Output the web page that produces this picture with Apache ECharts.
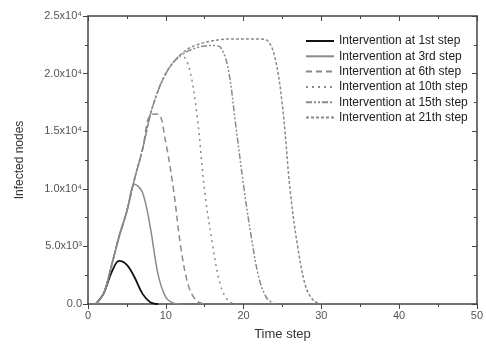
<!DOCTYPE html>
<html>
<head>
<meta charset="utf-8">
<script src="https://cdn.jsdelivr.net/npm/echarts@6/dist/echarts.min.js"></script>
<style>
  html, body { margin: 0; padding: 0; background: #fff; }
  #chart { width: 486px; height: 346px; }
</style>
</head>
<body>
<div id="chart"></div>
<script>
// time steps start at 1
const startStep = 1;
const seriesNames = [
  "Intervention at 1st step",
  "Intervention at 3rd step",
  "Intervention at 6th step",
  "Intervention at 10th step",
  "Intervention at 15th step",
  "Intervention at 21th step"
];
const step1 = [0, 900, 2700, 3750, 3400, 2300, 900, 150, 0];
const step3 = [0, 900, 3200, 5800, 8000, 10400, 9700, 6700, 2600, 600, 80, 0];
const step6 = [0, 900, 3300, 5900, 8100, 10900, 13400, 16400, 16500, 14000, 9900, 4600, 1400, 250, 0];
const step10 = [0, 900, 3300, 5900, 8100, 10900, 13400, 16400, 18500, 20000, 21000, 21600, 20500, 16500, 9800, 5200, 1700, 300, 0];
const step15 = [0, 900, 3300, 5900, 8100, 10900, 13400, 16400, 18500, 20000, 21000, 21600, 22000, 22250, 22400, 22450, 22300, 20500, 15500, 10300, 5800, 2200, 500, 0];
const step21 = [0, 900, 3300, 5900, 8100, 10900, 13400, 16400, 18500, 20000, 21000, 21700, 22200, 22500, 22700, 22850, 22950, 23000, 23000, 23000, 23000, 23000, 22900, 21500, 17200, 9800, 4800, 1500, 300, 0];
const yTickLabels = ["0.0", "5.0x10³", "1.0x10⁴", "1.5x10⁴", "2.0x10⁴", "2.5x10⁴"];
const xTickLabels = ["0", "10", "20", "30", "40", "50"];

const allValues = [step1, step3, step6, step10, step15, step21];
const lineStyles = [
  { color: "#111", width: 1.8, type: "solid" },
  { color: "#8a8a8a", width: 1.5, type: "solid" },
  { color: "#8a8a8a", width: 1.5, type: [6, 4] },
  { color: "#8a8a8a", width: 1.5, type: [2, 4] },
  { color: "#8a8a8a", width: 1.5, type: [6, 2, 2, 2, 2, 2] },
  { color: "#8a8a8a", width: 1.5, type: [3, 2] }
];

const font = "Liberation Sans, Arial, sans-serif";
const axisColor = "#444";

const chart = echarts.init(document.getElementById("chart"));

const baseX = {
  type: "value", min: 0, max: 50, interval: 10,
  axisLine: { show: true, onZero: false, lineStyle: { color: axisColor, width: 1.5 } },
  splitLine: { show: false },
  minorTick: { show: true, splitNumber: 2, length: 3, lineStyle: { color: axisColor } },
  axisTick: { length: 5, lineStyle: { color: axisColor } }
};
const baseY = {
  type: "value", min: 0, max: 25000, interval: 5000,
  axisLine: { show: true, onZero: false, lineStyle: { color: axisColor, width: 1.5 } },
  splitLine: { show: false },
  minorTick: { show: true, splitNumber: 2, length: 3, lineStyle: { color: axisColor } },
  axisTick: { length: 5, lineStyle: { color: axisColor } }
};

chart.setOption({
  animation: false,
  textStyle: { fontFamily: font },
  grid: { left: 88, right: 6, top: 16, bottom: 42 },
  legend: {
    orient: "vertical",
    left: 300,
    top: 30,
    itemWidth: 28,
    itemHeight: 12,
    itemGap: 3.3,
    data: seriesNames,
    itemStyle: { opacity: 0 },
    textStyle: { fontSize: 12, color: "#222", fontFamily: font, lineHeight: 12 }
  },
  xAxis: [
    {
      ...baseX,
      position: "bottom",
      name: "Time step",
      nameLocation: "middle",
      nameGap: 24,
      nameTextStyle: { fontSize: 13, color: "#333" },
      axisLabel: {
        fontSize: 11, color: "#555", margin: 6,
        formatter: (v) => xTickLabels[v / 10]
      }
    },
    {
      ...baseX,
      position: "top",
      axisTick: { ...baseX.axisTick, inside: true },
      minorTick: { ...baseX.minorTick },
      axisLabel: { show: false }
    }
  ],
  yAxis: [
    {
      ...baseY,
      position: "left",
      name: "Infected nodes",
      nameLocation: "middle",
      nameGap: 62,
      nameTextStyle: { fontSize: 12, color: "#333" },
      axisLabel: {
        fontSize: 11, color: "#555", margin: 6,
        formatter: (v) => yTickLabels[v / 5000]
      }
    },
    {
      ...baseY,
      position: "right",
      axisTick: { ...baseY.axisTick, inside: true },
      axisLabel: { show: false }
    }
  ],
  series: seriesNames.map((name, i) => ({
    name,
    type: "line",
    xAxisIndex: 0,
    yAxisIndex: 0,
    smooth: 0.35,
    symbol: "none",
    lineStyle: lineStyles[i],
    itemStyle: { color: lineStyles[i].color },
    data: allValues[i].map((v, k) => [startStep + k, v])
  }))
});
</script>
</body>
</html>
